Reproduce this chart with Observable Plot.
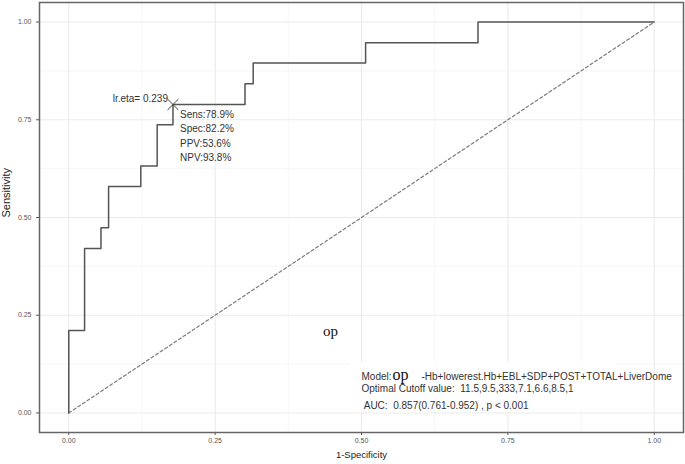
<!DOCTYPE html>
<html><head><meta charset="utf-8">
<script src="https://cdn.jsdelivr.net/npm/d3@7"></script>
<script src="https://cdn.jsdelivr.net/npm/@observablehq/plot@0.6"></script>
<style>body{margin:0;background:#fff} svg{display:block}</style>
</head><body><div id="chart"></div>
<script>
// ROC step points (1-Specificity, Sensitivity)
const fpr = [0, 0, 0.027, 0.055, 0.068, 0.123, 0.151, 0.178, 0.301, 0.315, 0.507, 0.699, 1];
const tpr = [0, 0.211, 0.421, 0.474, 0.579, 0.632, 0.737, 0.789, 0.842, 0.895, 0.947, 1, 1];
// reference diagonal
const refX = [0, 1];
const refY = [0, 1];
// optimal cutoff
const cutX = [0.178];
const cutY = [0.789];
const cutLabel = ["lr.eta= 0.239"];
const cutStats = ["Sens:78.9%\nSpec:82.2%\nPPV:53.6%\nNPV:93.8%"];
// annotation block
const noteX = [0.5, 0.5, 0.5];
const noteY = [0.0844, 0.0532, 0.0107];
const noteText = ["Model:", "Optimal Cutoff value:  11.5,9.5,333,7.1,6.6,8.5,1", " AUC:  0.857(0.761-0.952) , p < 0.001"];
const modelRest = ["-Hb+lowerest.Hb+EBL+SDP+POST+TOTAL+LiverDome"];
const opX = [0.447];
const opY = [0.208];
// ticks
const majorTicks = [0, 0.25, 0.5, 0.75, 1];
const minorTicks = [0.125, 0.375, 0.625, 0.875];

const roc = fpr.map((d, i) => ({x: d, y: tpr[i]}));
const diag = refX.map((d, i) => ({x: d, y: refY[i]}));
const cut = cutX.map((d, i) => ({x: d, y: cutY[i], label: cutLabel[i], stats: cutStats[i]}));
const notes = noteX.map((d, i) => ({x: d, y: noteY[i], text: noteText[i]}));
const font = "'Liberation Sans', Arial, sans-serif";

const chart = Plot.plot({
  width: 685, height: 464,
  marginLeft: 39, marginRight: 2, marginTop: 2, marginBottom: 32,
  style: {fontFamily: font, background: "#fff", overflow: "visible"},
  x: {domain: [-0.05, 1.05]},
  y: {domain: [-0.05, 1.05]},
  marks: [
    Plot.gridX(minorTicks, {stroke: "#f4f4f4", strokeOpacity: 1, strokeWidth: 0.7}),
    Plot.gridY(minorTicks, {stroke: "#f4f4f4", strokeOpacity: 1, strokeWidth: 0.7}),
    Plot.gridX(majorTicks, {stroke: "#ebebeb", strokeOpacity: 1, strokeWidth: 1.1}),
    Plot.gridY(majorTicks, {stroke: "#ebebeb", strokeOpacity: 1, strokeWidth: 1.1}),
    Plot.axisX({ticks: majorTicks, tickFormat: d3.format(".2f"), tickSize: 3, tickPadding: 3, fontSize: 7, color: "#555", label: null}),
    Plot.axisY({ticks: majorTicks, tickFormat: d3.format(".2f"), tickSize: 3, tickPadding: 5, fontSize: 7, color: "#555", label: null}),
    Plot.text(["1-Specificity"], {frameAnchor: "bottom", lineAnchor: "middle", dy: 22, fontSize: 9.5, fill: "#222"}),
    Plot.text(["Sensitivity"], {frameAnchor: "left", lineAnchor: "middle", rotate: -90, dx: -33, fontSize: 11, fill: "#222"}),
    Plot.line(diag, {x: "x", y: "y", stroke: "#7a7a7a", strokeWidth: 1.2, strokeDasharray: "3,2.5"}),
    Plot.line(roc, {x: "x", y: "y", curve: "step-after", stroke: "#555", strokeWidth: 1.5}),
    Plot.dot(cut, {x: "x", y: "y", symbol: "times", r: 5, stroke: "#444", strokeWidth: 1}),
    Plot.text(cut, {x: "x", y: "y", text: "label", textAnchor: "end", lineAnchor: "middle", dx: -5, dy: -6, fontSize: 10, fill: "#333"}),
    Plot.text(cut, {x: "x", y: "y", text: "stats", textAnchor: "start", lineAnchor: "top", dx: 7, dy: 3, lineHeight: 1.45, fontSize: 10, fill: "#333"}),
    Plot.text(notes, {x: "x", y: "y", text: "text", textAnchor: "start", lineAnchor: "bottom", fontSize: 10, fill: "#333", className: "note"}),
    Plot.text(modelRest, {x: noteX[0], y: noteY[0], text: d => d, textAnchor: "start", lineAnchor: "bottom", dx: 60, fontSize: 10, fill: "#333", className: "note"}),
    Plot.text(["op"], {x: noteX[0], y: noteY[0], text: d => d, textAnchor: "middle", lineAnchor: "bottom", dx: 39, fontSize: 16, fontFamily: "'Liberation Serif', 'Times New Roman', serif", fill: "#111", className: "note"}),
    Plot.text(["op"], {x: opX[0], y: opY[0], text: d => d, textAnchor: "middle", lineAnchor: "middle", fontSize: 15, fontFamily: "'Liberation Serif', 'Times New Roman', serif", fill: "#111"}),
    Plot.frame({stroke: "#666", strokeWidth: 1.5})
  ]
});
document.getElementById("chart").appendChild(chart);

// white backing behind the model annotation block
const groups = chart.querySelectorAll("g.note");
if (groups.length) {
  let x0 = Infinity, y0 = Infinity, x1 = -Infinity, y1 = -Infinity;
  groups.forEach(g => { const b = g.getBBox(); x0 = Math.min(x0, b.x); y0 = Math.min(y0, b.y); x1 = Math.max(x1, b.x + b.width); y1 = Math.max(y1, b.y + b.height); });
  const rect = document.createElementNS("http://www.w3.org/2000/svg", "rect");
  rect.setAttribute("x", x0 - 3); rect.setAttribute("y", y0 - 3);
  rect.setAttribute("width", x1 - x0 + 6); rect.setAttribute("height", y1 - y0 + 4);
  rect.setAttribute("fill", "#fff");
  groups[0].parentNode.insertBefore(rect, groups[0]);
}
</script>
</body></html>
